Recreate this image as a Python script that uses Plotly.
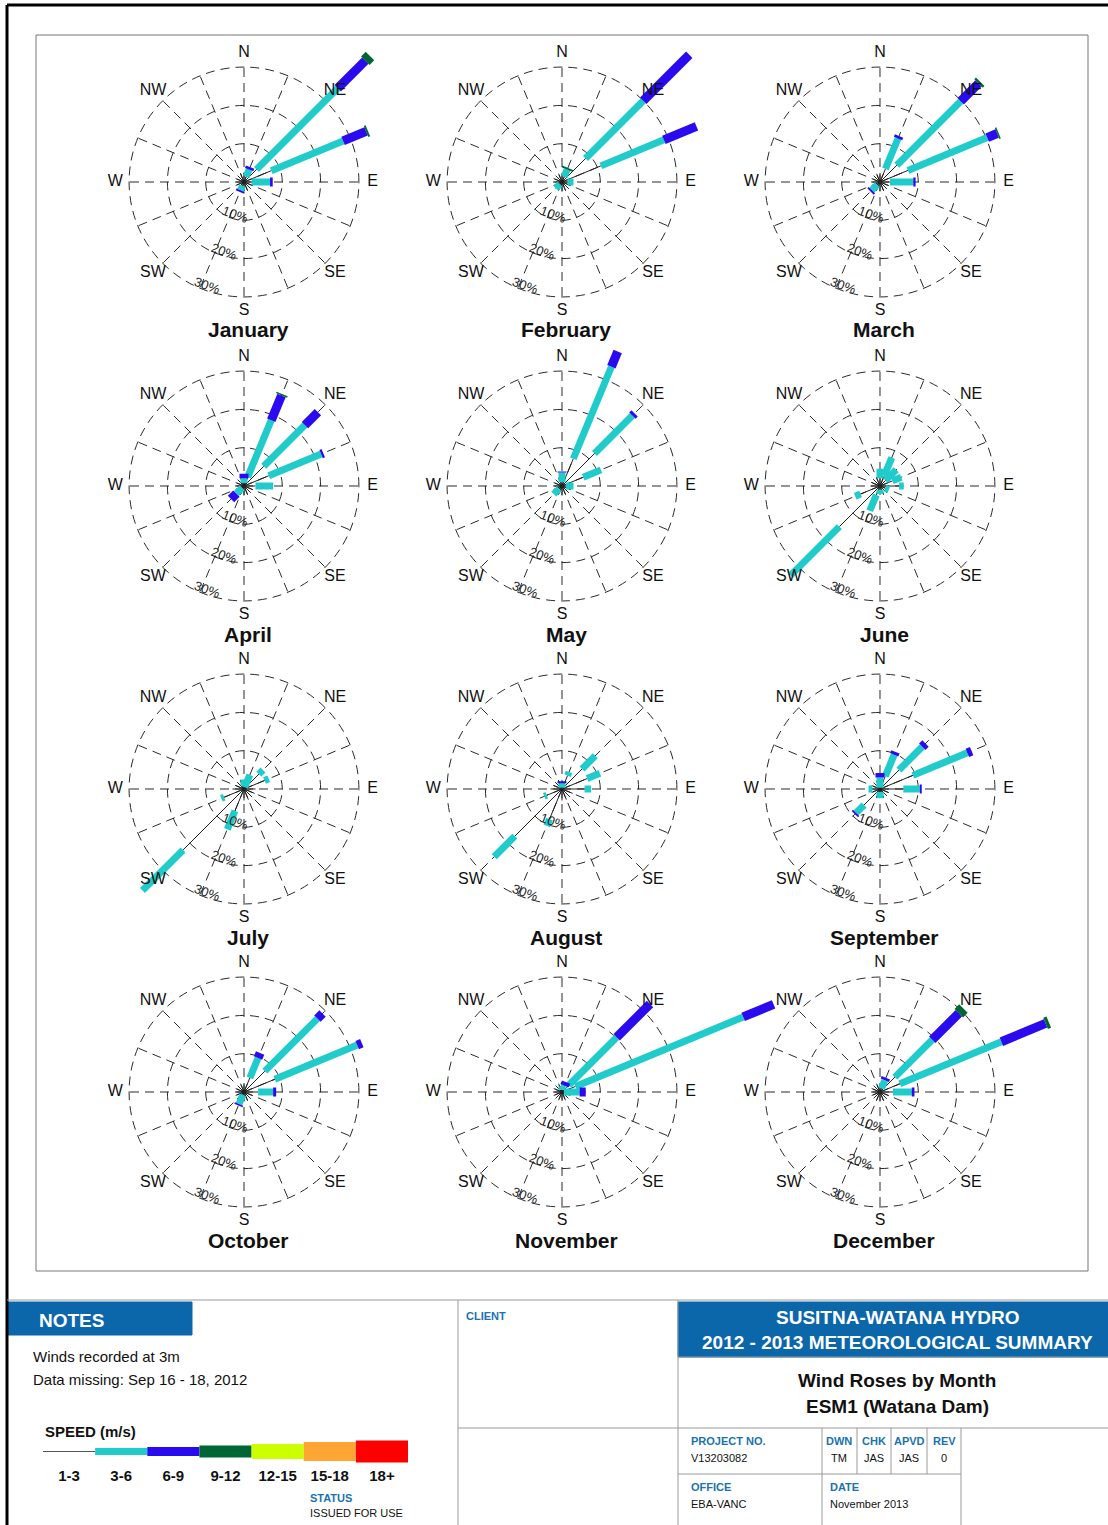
import math
import plotly.graph_objects as go

W, H = 1108, 1525
PX_PER_PCT = 3.83  # pixels per 1 % frequency on every rose

DIRECTIONS = ["N", "NNE", "NE", "ENE", "E", "ESE", "SE", "SSE",
              "S", "SSW", "SW", "WSW", "W", "WNW", "NW", "NNW"]
DIR_ANGLES = [i * 22.5 for i in range(16)]
SPEED_BINS = ["1-3", "3-6", "6-9", "9-12", "12-15", "15-18", "18+"]
SPEED_COLORS = ["#222222", "#1FCBCB", "#2A0BF0", "#006633", "#CCFF00", "#FFA533", "#FF0000"]
SPEED_WIDTHS = [1, 7, 9, 12, 15, 19, 22]
MONTHS = ["January", "February", "March", "April", "May", "June",
          "July", "August", "September", "October", "November", "December"]
COMPASS = ["N", "NE", "E", "SE", "S", "SW", "W", "NW"]
COMPASS_ANGLES = [0, 45, 90, 135, 180, 225, 270, 315]
RING_VALUES = [10, 20, 30]
RING_LABELS = ["10%", "20%", "30%"]

# frequency (%) per direction; rows = speed classes 1-3, 3-6, 6-9, 9-12 m/s
JAN = [
    [2.5, 1.5, 4.6, 7.7, 2.0, 2.5, 2.5, 2.5, 2.5, 1.0, 2.0, 2.0, 2.0, 2.0, 2.0, 2.5],
    [0, 2.0, 30.0, 20.3, 4.8, 0, 0, 0, 0, 1.3, 0, 0, 0, 0, 0, 0],
    [0, 0.7, 10.2, 6.5, 0.7, 0, 0, 0, 0, 0.5, 0, 0, 0, 0, 0, 0],
    [0, 0, 1.7, 0.5, 0, 0, 0, 0, 0, 0, 0, 0, 0, 0, 0, 0],
]
FEB = [
    [2.0, 1.5, 8.7, 11.0, 1.5, 2.5, 2.5, 2.5, 2.5, 2.5, 0.8, 2.0, 2.0, 2.0, 2.0, 2.0],
    [0, 2.0, 21.3, 17.8, 1.5, 0, 0, 0, 0, 0, 1.5, 0, 0, 0, 0, 0],
    [0, 0, 17.0, 9.2, 0, 0, 0, 0, 0, 0, 0, 0, 0, 0, 0, 0],
    [0, 0.5, 0, 0, 0, 0, 0, 0, 0, 0, 0, 0, 0, 0, 0, 0],
]
MAR = [
    [2.0, 3.7, 6.2, 7.9, 2.6, 2.5, 2.5, 2.5, 2.5, 2.5, 1.0, 2.0, 2.0, 2.0, 2.0, 2.0],
    [0, 8.6, 23.6, 22.4, 6.1, 0, 0, 0, 0, 0, 2.0, 0, 0, 0, 0, 0],
    [0, 0.7, 6.6, 2.8, 0.6, 0, 0, 0, 0, 0, 0.5, 0, 0, 0, 0, 0],
    [0, 0, 0.6, 0.4, 0, 0, 0, 0, 0, 0, 0, 0, 0, 0, 0, 0],
]
APR = [
    [0.8, 2.5, 7.3, 7.0, 3.0, 2.5, 2.5, 2.5, 2.5, 2.5, 0.7, 2.0, 2.0, 2.0, 2.0, 2.0],
    [1.2, 16.1, 15.2, 14.8, 4.6, 0, 0, 0, 0, 0, 2.1, 0, 0, 0, 0, 0],
    [1.2, 7.0, 4.8, 0.6, 0, 0, 0, 0, 0, 0, 2.0, 0, 0, 0, 0, 0],
    [0, 0.4, 0, 0, 0, 0, 0, 0, 0, 0, 0, 0, 0, 0, 0, 0],
]
MAY = [
    [1.0, 7.7, 12.0, 6.0, 1.0, 2.5, 2.5, 2.5, 2.5, 2.5, 1.0, 2.0, 2.0, 2.0, 2.0, 2.0],
    [2.5, 26.0, 14.0, 5.0, 2.0, 0, 0, 0, 0, 0, 2.0, 0, 0, 0, 0, 0],
    [0.3, 4.3, 0.8, 0, 0, 0, 0, 0, 0, 0, 0, 0, 0, 0, 0, 0],
    [0, 0, 0, 0, 0, 0, 0, 0, 0, 0, 0, 0, 0, 0, 0, 0],
]
JUN = [
    [2.0, 3.0, 2.0, 3.5, 5.0, 1.5, 2.5, 2.5, 1.0, 2.5, 15.0, 5.5, 2.5, 2.5, 2.5, 2.5],
    [2.5, 5.0, 4.0, 2.5, 1.2, 1.0, 0, 0, 1.0, 4.5, 18.0, 1.5, 0, 0, 0, 0],
    [0, 0, 0, 0, 0, 0, 0, 0, 0, 0, 0, 0, 0, 0, 0, 0],
    [0, 0, 0, 0, 0, 0, 0, 0, 0, 0, 0, 0, 0, 0, 0, 0],
]
JUL = [
    [1.0, 0.5, 5.5, 5.8, 3.0, 3.0, 3.0, 3.0, 3.0, 6.2, 22.5, 5.6, 3.0, 2.5, 2.5, 2.5],
    [1.5, 3.5, 1.5, 1.2, 0, 0, 0, 0, 0, 5.2, 15.0, 0.8, 0, 0, 0, 0],
    [0, 0, 0, 0, 0, 0, 0, 0, 0, 0, 0, 0, 0, 0, 0, 0],
    [0, 0, 0, 0, 0, 0, 0, 0, 0, 0, 0, 0, 0, 0, 0, 0],
]
AUG = [
    [0.3, 3.8, 7.4, 7.1, 5.9, 3.0, 3.0, 3.0, 3.0, 8.5, 17.4, 4.3, 3.0, 2.5, 2.5, 2.5],
    [1.2, 1.0, 4.9, 3.6, 1.7, 0, 0, 0, 0, 1.9, 7.6, 0.7, 0, 0, 0, 0],
    [0.5, 0, 0, 0, 0, 0, 0, 0, 0, 0, 0, 0, 0, 0, 0, 0],
    [0, 0, 0, 0, 0, 0, 0, 0, 0, 0, 0, 0, 0, 0, 0, 0],
]
SEP = [
    [0.3, 3.6, 7.0, 9.3, 6.1, 2.5, 2.5, 2.5, 0.8, 2.5, 5.9, 2.0, 2.0, 2.0, 2.0, 2.0],
    [2.7, 6.1, 8.6, 15.4, 4.3, 0, 0, 0, 1.6, 0, 2.9, 0, 1.0, 0, 0, 0],
    [1.2, 0.8, 1.2, 1.2, 0.5, 0, 0, 0, 0, 0, 0.5, 0, 0, 0, 0, 0],
    [0, 0, 0, 0, 0, 0, 0, 0, 0, 0, 0, 0, 0, 0, 0, 0],
]
OCT = [
    [2.0, 4.0, 7.7, 8.7, 3.7, 2.5, 2.5, 2.5, 2.5, 0.8, 2.5, 2.0, 2.0, 2.0, 2.0, 2.0],
    [0, 5.6, 19.4, 23.3, 3.9, 0, 0, 0, 0, 2.6, 0, 0, 0, 0, 0, 0],
    [0, 1.4, 1.9, 1.3, 0.8, 0, 0, 0, 0, 0.4, 0, 0, 0, 0, 0, 0],
    [0, 0, 0, 0, 0, 0, 0, 0, 0, 0, 0, 0, 0, 0, 0, 0],
]
NOV = [
    [0.5, 1.5, 2.5, 3.8, 0.5, 2.0, 2.0, 2.0, 2.0, 2.0, 2.0, 2.0, 2.0, 2.0, 2.0, 2.0],
    [1.0, 0.3, 17.7, 47.4, 4.1, 0, 0, 0, 0, 0, 0, 0, 0, 0, 0, 0],
    [0, 1.0, 12.3, 8.6, 1.6, 0, 0, 0, 0, 0, 0, 0, 0, 0, 0, 0],
    [0, 0, 0, 0, 0, 0, 0, 0, 0, 0, 0, 0, 0, 0, 0, 0],
]
DEC = [
    [2.0, 1.0, 5.5, 5.6, 3.4, 2.5, 2.5, 2.5, 2.5, 2.5, 2.0, 2.0, 2.0, 2.0, 2.0, 2.0],
    [0, 2.3, 13.8, 28.7, 4.9, 0, 0, 0, 0, 0, 0, 0, 0, 0, 0, 0],
    [0, 0.7, 9.8, 12.5, 0.7, 0, 0, 0, 0, 0, 0, 0, 0, 0, 0, 0],
    [0, 0, 1.7, 0.9, 0, 0, 0, 0, 0, 0, 0, 0, 0, 0, 0, 0],
]
MONTH_DATA = [JAN, FEB, MAR, APR, MAY, JUN, JUL, AUG, SEP, OCT, NOV, DEC]

# ---- layout geometry (pixels) ----
COL_X = [244, 562, 880]
ROW_Y = [182, 486, 789, 1092]
FONT = "Liberation Sans, Arial, Helvetica, sans-serif"
BLUE = "#0B66AA"
LBLUE = "#1B72B0"
GRID = "#2A2A2A"
DASH = "9px,6px"


def px(x):
    return x / W


def py(y):
    return 1 - y / H


fig = go.Figure()
layout_polars = {}
annotations = []
shapes = []

for m, (name, rows) in enumerate(zip(MONTHS, MONTH_DATA)):
    cx = COL_X[m % 3]
    cy = ROW_Y[m // 3]
    pid = "polar" if m == 0 else f"polar{m + 1}"

    totals = [sum(r[i] for r in rows) for i in range(16)]
    limit = min(cx, W - cx, cy, H - cy) / PX_PER_PCT - 0.1
    rmax = min(limit, max(40.0, max(totals) + 1.5))
    R = rmax * PX_PER_PCT
    layout_polars[pid] = dict(
        domain=dict(x=[px(cx - R), px(cx + R)], y=[py(cy + R), py(cy - R)]),
        bgcolor="rgba(0,0,0,0)",
        radialaxis=dict(range=[0, rmax], tickvals=RING_VALUES, showticklabels=False,
                        ticks="", showline=False, gridcolor=GRID, gridwidth=1,
                        griddash=DASH),
        angularaxis=dict(rotation=90, direction="clockwise", showgrid=False,
                         showticklabels=False, ticks="", showline=False),
    )

    # spokes out to the 30 % ring
    r_sp, t_sp = [], []
    for a in DIR_ANGLES:
        r_sp += [0, RING_VALUES[-1], None]
        t_sp += [a, a, None]
    fig.add_trace(go.Scatterpolar(r=r_sp, theta=t_sp, mode="lines", subplot=pid,
                                  line=dict(color=GRID, width=1, dash=DASH),
                                  hoverinfo="skip", showlegend=False))

    # stacked speed segments per direction
    base = [0.0] * 16
    for k, row in enumerate(rows):
        rr, tt = [], []
        for i, v in enumerate(row):
            if v > 0:
                rr += [base[i], base[i] + v, None]
                tt += [DIR_ANGLES[i], DIR_ANGLES[i], None]
                base[i] += v
        if rr:
            fig.add_trace(go.Scatterpolar(r=rr, theta=tt, mode="lines", subplot=pid,
                                          line=dict(color=SPEED_COLORS[k], width=SPEED_WIDTHS[k]),
                                          hoverinfo="skip", showlegend=False))

    # compass labels
    fig.add_trace(go.Scatterpolar(r=[33.6] * len(COMPASS), theta=COMPASS_ANGLES,
                                  mode="text", text=COMPASS, subplot=pid,
                                  textfont=dict(family=FONT, size=16, color="#111"),
                                  cliponaxis=False, hoverinfo="skip", showlegend=False))

    # ring percentage labels (rotated)
    for lab, rad, brg in zip(RING_LABELS, [34, 72, 110], [195, 196, 199.5]):
        b = math.radians(brg)
        annotations.append(dict(x=px(cx + rad * math.sin(b)), y=py(cy - rad * math.cos(b)),
                                xref="paper", yref="paper", text=lab, showarrow=False,
                                xanchor="center", yanchor="middle",
                                textangle=20, font=dict(family=FONT, size=13, color="#222")))

    annotations.append(dict(x=px(cx + 4), y=py(cy + 148), xref="paper", yref="paper",
                            text=f"<b>{name}</b>", showarrow=False,
                            xanchor="center", yanchor="middle",
                            font=dict(family=FONT, size=21, color="#111")))

# ---- speed legend drawn on its own small cartesian axis ----
for k, lab in enumerate(SPEED_BINS):
    fig.add_trace(go.Scatter(x=[k, k + 1], y=[0, 0], mode="lines",
                             line=dict(color=SPEED_COLORS[k] if k else "#555555",
                                       width=SPEED_WIDTHS[k]),
                             xaxis="x", yaxis="y", hoverinfo="skip", showlegend=False))


def line(x0, y0, x1, y1, color="#9A9A9A", width=1):
    shapes.append(dict(type="line", xref="paper", yref="paper", x0=px(x0), y0=py(y0),
                       x1=px(x1), y1=py(y1), line=dict(color=color, width=width)))


def rect(x0, y0, x1, y1, fill=None, color="#9A9A9A", width=1):
    shapes.append(dict(type="rect", xref="paper", yref="paper", x0=px(x0), y0=py(y0),
                       x1=px(x1), y1=py(y1), fillcolor=fill or "rgba(0,0,0,0)",
                       line=dict(color=color, width=width), layer="below"))


# page borders and frame
line(7, 5, W, 5, "#000000", 3)
line(7, 5, 7, H, "#000000", 3)
rect(36, 35, 1088, 1271, color="#777777")
# title block
line(7, 1300, W, 1300)
rect(8, 1302, 192, 1335, fill=BLUE, color=BLUE)
line(458, 1300, 458, H)
rect(678, 1302, W, 1357, fill=BLUE, color=BLUE)
line(678, 1300, 678, H)
line(678, 1357, W, 1357)
line(458, 1428, W, 1428)
line(678, 1474, 961, 1474)
line(822, 1428, 822, H)
for xv in [857, 891, 927]:
    line(xv, 1428, xv, 1474)
line(961, 1428, 961, H)


def text(x, y, s, size=11, color="#111", anchor="left", bold=False):
    annotations.append(dict(x=px(x), y=py(y), xref="paper", yref="paper",
                            text=f"<b>{s}</b>" if bold else s, showarrow=False,
                            xanchor=anchor, yanchor="middle",
                            font=dict(family=FONT, size=size, color=color)))


text(37, 1320, "NOTES", 19, "white", bold=True)
text(31, 1356, "Winds recorded at 3m", 15)
text(31, 1379, "Data missing: Sep 16 - 18, 2012", 15)
text(43, 1431, "SPEED (m/s)", 15, bold=True)
text(308, 1498, "STATUS", 11, LBLUE, bold=True)
text(308, 1513, "ISSUED FOR USE", 11)
text(464, 1316, "CLIENT", 11, LBLUE, bold=True)
text(897, 1317, "SUSITNA-WATANA HYDRO", 19, "white", "center", True)
text(897, 1342, "2012 - 2013 METEOROLOGICAL SUMMARY", 19, "white", "center", True)
text(897, 1380, "Wind Roses by Month", 19, "#111", "center", True)
text(897, 1406, "ESM1 (Watana Dam)", 19, "#111", "center", True)
text(689, 1441, "PROJECT NO.", 11, LBLUE, bold=True)
text(689, 1458, "V13203082", 11)
for xv, hd, val in zip([839, 874, 909, 944], ["DWN", "CHK", "APVD", "REV"], ["TM", "JAS", "JAS", "0"]):
    text(xv, 1441, hd, 11, LBLUE, "center", True)
    text(xv, 1458, val, 11, "#111", "center")
text(689, 1487, "OFFICE", 11, LBLUE, bold=True)
text(689, 1504, "EBA-VANC", 11)
text(828, 1487, "DATE", 11, LBLUE, bold=True)
text(828, 1504, "November 2013", 11)

fig.update_layout(
    width=W, height=H, margin=dict(l=0, r=0, t=0, b=0, pad=0),
    paper_bgcolor="white", plot_bgcolor="rgba(0,0,0,0)",
    showlegend=False, annotations=annotations, shapes=shapes,
    xaxis=dict(domain=[px(43), px(408)], range=[0, len(SPEED_BINS)],
               tickvals=[k + 0.5 for k in range(len(SPEED_BINS))], ticktext=SPEED_BINS,
               tickfont=dict(family=FONT, size=15, color="#111", weight="bold"),
               showgrid=False, zeroline=False, showline=False, ticks="", fixedrange=True),
    yaxis=dict(domain=[py(1465), py(1438)], range=[-1, 1], visible=False, fixedrange=True),
    **layout_polars,
)

fig.write_html("out.html", config={"displayModeBar": False},
               post_script="document.body.style.margin='0';document.body.style.padding='0';")
